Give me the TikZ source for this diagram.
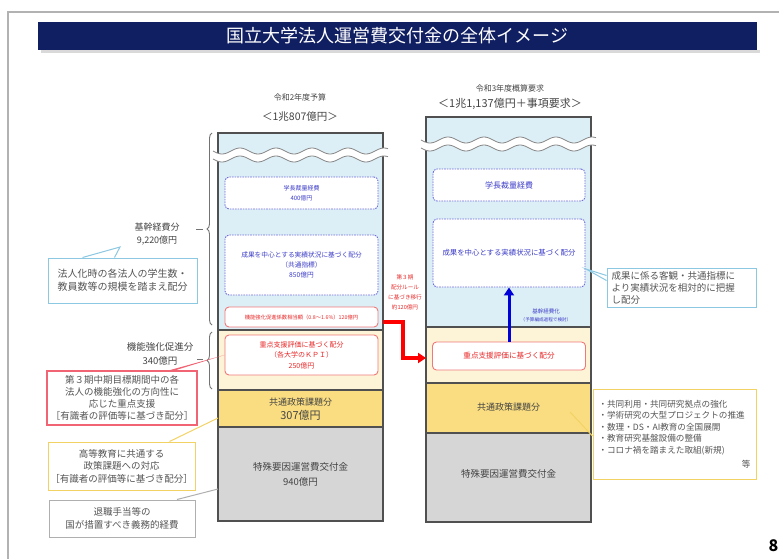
\documentclass[tikz,border=0pt]{standalone}
\usepackage{fontspec}
\setmainfont{Noto Sans CJK JP}
\usetikzlibrary{arrows.meta,decorations.pathreplacing}
\definecolor{navy}{RGB}{16,30,98}
\definecolor{colblue}{RGB}{221,239,246}
\definecolor{colcream}{RGB}{253,243,214}
\definecolor{colyel}{RGB}{250,221,128}
\definecolor{colgray}{RGB}{214,214,214}
\definecolor{colline}{RGB}{80,80,80}
\definecolor{bdash}{RGB}{110,110,220}
\definecolor{btext}{RGB}{60,60,200}
\definecolor{rline}{RGB}{240,120,120}
\definecolor{rtext}{RGB}{232,40,40}
\definecolor{ctext}{RGB}{85,85,85}
\definecolor{cblue}{RGB}{140,200,225}
\definecolor{cyel}{RGB}{243,210,100}
\definecolor{cgray}{RGB}{175,175,175}
\definecolor{calred}{RGB}{240,100,115}
\newcommand\myfs[2]{\fontsize{#1}{#2}\selectfont}
\begin{document}
\begin{tikzpicture}[x=1pt,y=-1pt,
  col/.style={draw=colline, line width=1.3pt},
  bbox/.style={draw=bdash, dash pattern=on 1.6pt off 1pt, rounded corners=4pt, fill=white, line width=0.9pt, text=btext, align=center, inner sep=0pt},
  rbox/.style={draw=rline, rounded corners=4pt, fill=white, line width=0.9pt, text=rtext, align=center, inner sep=0pt},
  call/.style={fill=white, line width=1pt, text=ctext, align=center, inner sep=0pt},
  ctxt/.style={text=ctext!80!black, align=center, inner sep=0pt},
  wave/.style={colline!70, line width=0.8pt}]
\useasboundingbox (0,0) rectangle (779,559);
\fill[white] (0,0) rectangle (779,559);
\draw[gray!60, line width=1.2pt] (779,12) -- (8,12) -- (8,559);
% title
\fill[gray!30] (41,50) rectangle (760,53);
\node[fill=navy, minimum width=719pt, minimum height=28pt, inner sep=0pt, text=white, font=\myfs{18}{18}] (title) at (397.5,36) {国立大学法人運営費交付金の全体イメージ};
% headers
\node[ctxt, font=\myfs{8}{8}] (lh1) at (300,97) {令和2年度予算};
\node[ctxt, font=\myfs{10.5}{10.5}] (lh2) at (300,117) {＜1兆807億円＞};
\node[ctxt, font=\myfs{8}{8}] (rh1) at (510,88) {令和3年度概算要求};
\node[ctxt, font=\myfs{11}{11}] (rh2) at (510,104) {＜1兆1,137億円＋事項要求＞};
% left column
\draw[col, fill=colblue] (218,133) rectangle (383,330);
\draw[col, fill=colcream] (218,330) rectangle (383,390);
\draw[col, fill=colyel] (218,390) rectangle (383,427);
\draw[col, fill=colgray] (218,427) rectangle (383,521);
% right column
\draw[col, fill=colblue] (426,117) rectangle (591,327);
\draw[col, fill=colcream] (426,327) rectangle (591,383);
\draw[col, fill=colyel] (426,383) rectangle (591,433);
\draw[col, fill=colgray] (426,433) rectangle (591,522);
% waves
\fill[white] plot[domain=213:388,samples=90] (\x,{151+3*sin(10*(\x-213))}) -- plot[domain=388:213,samples=90] (\x,{159+3*sin(10*(\x-213))}) -- cycle;
\draw[wave] plot[domain=213:388,samples=90] (\x,{151+3*sin(10*(\x-213))});
\draw[wave] plot[domain=213:388,samples=90] (\x,{159+3*sin(10*(\x-213))});
\fill[white] plot[domain=421:596,samples=90] (\x,{140+3*sin(10*(\x-421))}) -- plot[domain=596:421,samples=90] (\x,{148+3*sin(10*(\x-421))}) -- cycle;
\draw[wave] plot[domain=421:596,samples=90] (\x,{140+3*sin(10*(\x-421))});
\draw[wave] plot[domain=421:596,samples=90] (\x,{148+3*sin(10*(\x-421))});
% left inner boxes
\node[bbox, minimum width=153pt, minimum height=32pt, font=\myfs{6}{10}] (lgaku) at (301.5,193) {学長裁量経費\\400億円};
\node[bbox, minimum width=153pt, minimum height=60pt, font=\myfs{6.7}{10}] (lseika) at (301.5,265) {成果を中心とする実績状況に基づく配分\\（共通指標）\\850億円};
\node[rbox, minimum width=153pt, minimum height=20pt, font=\myfs{5.3}{6}] (lkino) at (301.5,317) {機能強化促進係数相当額（0.8～1.6\%）120億円};
\node[rbox, minimum width=153pt, minimum height=40pt, font=\myfs{7}{10.5}] (ljuten) at (301.5,355) {重点支援評価に基づく配分\\（各大学のＫＰＩ）\\250億円};
\node[ctxt, font=\myfs{9}{9}] (lkyo) at (300.5,402) {共通政策課題分};
\node[ctxt, font=\myfs{11}{11}] (lkyo2) at (300.5,415) {307億円};
\node[ctxt, font=\myfs{9.5}{15}] (ltoku) at (300.5,474) {特殊要因運営費交付金\\940億円};
% right inner boxes
\node[bbox, minimum width=152pt, minimum height=32pt, font=\myfs{8}{8}] (rgaku) at (509,185) {学長裁量経費};
\node[bbox, minimum width=152pt, minimum height=68pt, font=\myfs{7.4}{8}] (rseika) at (509,253) {成果を中心とする実績状況に基づく配分};
\node[rbox, minimum width=153pt, minimum height=28pt, font=\myfs{7.6}{8}] (rjuten) at (509,356) {重点支援評価に基づく配分};
\node[ctxt, font=\myfs{9}{9}] (rkyo) at (508.5,407) {共通政策課題分};
\node[ctxt, font=\myfs{9.5}{9.5}] (rtoku) at (508.5,474) {特殊要因運営費交付金};
% blue arrow
\draw[blue!85!black, line width=3pt, -{Triangle[length=8pt,width=10pt]}] (rjuten.north) -- (rseika.south);
\node[text=btext, align=center, inner sep=0pt, font=\myfs{5.5}{8}] (kikanka) at (546,315) {基幹経費化\\{\myfs{4.6}{6}（予算編成過程で検討）}};
% middle red
\node[text=rtext, align=center, inner sep=0pt, font=\myfs{5.6}{10}] (mid) at (405,292) {第３期\\配分ルール\\に基づき移行\\約120億円};
\coordinate (ra0) at (383,322);
\coordinate (ra1) at (426,358);
\draw[red, line width=3.2pt, -{Triangle[length=8pt,width=10pt]}] (ra0) -- (403,322) |- (ra1);
% braces
\draw[colline!80, line width=0.9pt, decorate, decoration={brace, amplitude=5pt}] (212,325) -- (212,133);
\draw[colline!80, line width=0.9pt, decorate, decoration={brace, amplitude=5pt}] (212,389) -- (212,332);
\node[ctxt, font=\myfs{9}{13}] (kikan) at (157,234) {基幹経費分\\9,220億円};
\draw[colline!80, line width=0.9pt] (196,229) -- (203,229);
\node[ctxt, font=\myfs{9.5}{14}] (kino) at (160,354) {機能強化促進分\\340億円};
\draw[colline!80, line width=0.9pt] (197,359) -- (203,359);
% left callouts
\node[call, draw=cblue, minimum width=149pt, minimum height=45pt, font=\myfs{10}{13}] (cb1) at (122.5,280.5) {法人化時の各法人の学生数・\\教員数等の規模を踏まえ配分};
\coordinate (t1) at (120,247);
\draw[cblue, line width=1pt] ([xshift=-40pt]cb1.north) -- (t1) -- ([xshift=-8pt]cb1.north);
\node[call, draw=calred, line width=1.3pt, minimum width=150pt, minimum height=54pt, font=\myfs{9.5}{12}] (cb2) at (122,398) {第３期中期目標期間中の各\\法人の機能強化の方向性に\\応じた重点支援\\［有識者の評価等に基づき配分］};
\fill[calred] ([xshift=47pt]cb2.north) -- (ljuten.west) -- ([xshift=53pt]cb2.north) -- cycle;
\node[call, draw=cyel, minimum width=147pt, minimum height=48pt, font=\myfs{9.5}{12.5}] (cb3) at (121.5,466) {高等教育に共通する\\政策課題への対応\\［有識者の評価等に基づき配分］};
\coordinate (y1) at (218,418);
\draw[cyel, line width=1pt] ([xshift=48pt]cb3.north) -- (y1);
\node[call, draw=cgray, minimum width=146pt, minimum height=37pt, font=\myfs{9.5}{13}] (cb4) at (122,518.5) {退職手当等の\\国が措置すべき義務的経費};
\coordinate (g1) at (218,489);
\draw[cgray, line width=1pt] ([xshift=55pt]cb4.north) -- (g1);
% right callouts
\node[call, draw=cblue, minimum width=149pt, minimum height=39pt, align=left, text width=140pt, font=\myfs{9.5}{12}] (rb1) at (681.5,287.5) {成果に係る客観・共通指標に\\より実績状況を相対的に把握\\し配分};
\coordinate (bt) at (586,269);
\draw[cblue, line width=1pt] ([yshift=12pt]rb1.west) -- (bt) -- ([yshift=7pt]rb1.west);
\node[call, draw=cyel, minimum width=163pt, minimum height=90pt, align=left, text width=152pt, font=\myfs{8.6}{11.5}] (rb2) at (674.5,434) {・共同利用・共同研究拠点の強化\\・学術研究の大型プロジェクトの推進\\・数理・DS・AI教育の全国展開\\・教育研究基盤設備の整備\\・コロナ禍を踏まえた取組(新規)\\[3pt]\mbox{}\hfill 等};
\coordinate (yt) at (570,412);
\draw[cyel, line width=1pt] ([yshift=-2pt]rb2.west) -- (yt);
% page number
\node[anchor=east, inner sep=0pt, font=\myfs{16}{16}\bfseries] (pg) at (778.5,546) {8};
\end{tikzpicture}
\end{document}
